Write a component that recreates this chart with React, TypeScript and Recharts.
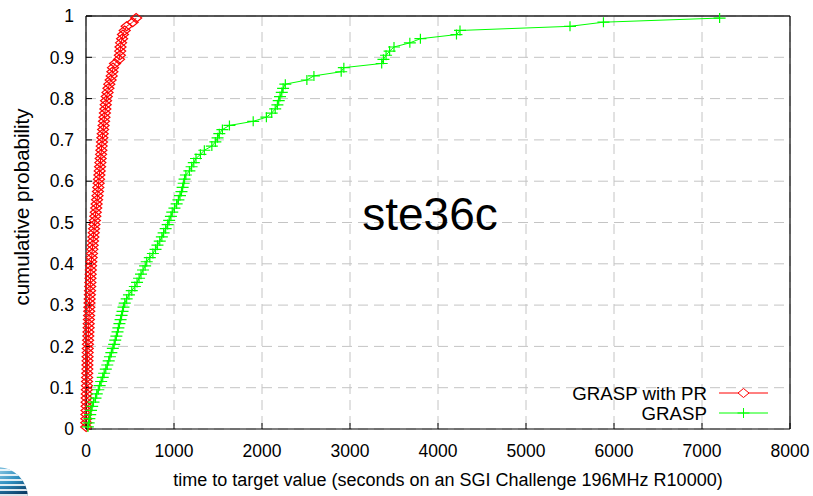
import React from 'react';
import { LineChart, Line, XAxis, YAxis, CartesianGrid, Customized } from 'recharts';

const probabilities = [
  0.005, 0.015, 0.025, 0.035, 0.045, 0.055, 0.065, 0.075, 0.085, 0.095,
  0.105, 0.115, 0.125, 0.135, 0.145, 0.155, 0.165, 0.175, 0.185, 0.195,
  0.205, 0.215, 0.225, 0.235, 0.245, 0.255, 0.265, 0.275, 0.285, 0.295,
  0.305, 0.315, 0.325, 0.335, 0.345, 0.355, 0.365, 0.375, 0.385, 0.395,
  0.405, 0.415, 0.425, 0.435, 0.445, 0.455, 0.465, 0.475, 0.485, 0.495,
  0.505, 0.515, 0.525, 0.535, 0.545, 0.555, 0.565, 0.575, 0.585, 0.595,
  0.605, 0.615, 0.625, 0.635, 0.645, 0.655, 0.665, 0.675, 0.685, 0.695,
  0.705, 0.715, 0.725, 0.735, 0.745, 0.755, 0.765, 0.775, 0.785, 0.795,
  0.805, 0.815, 0.825, 0.835, 0.845, 0.855, 0.865, 0.875, 0.885, 0.895,
  0.905, 0.915, 0.925, 0.935, 0.945, 0.955, 0.965, 0.975, 0.985, 0.995,
];

const graspPrTimes = [
  2, 3, 4, 5, 6, 7, 7, 8, 9, 10,
  11, 12, 13, 14, 15, 16, 17, 18, 19, 20,
  22, 24, 26, 28, 30, 31, 33, 35, 37, 38,
  40, 42, 44, 46, 48, 50, 51, 53, 55, 57,
  60, 64, 68, 72, 76, 80, 84, 88, 92, 96,
  101, 106, 111, 116, 121, 126, 131, 136, 140, 144,
  148, 152, 156, 160, 163, 167, 171, 175, 178, 182,
  186, 190, 195, 200, 205, 210, 215, 220, 224, 228,
  236, 245, 255, 265, 280, 292, 300, 307, 330, 375,
  385, 388, 392, 398, 410, 420, 440, 462, 530, 570,
];

const graspTimes = [
  22, 30, 38, 48, 57, 70, 85, 108, 122, 140,
  155, 172, 190, 206, 225, 242, 258, 272, 288, 305,
  320, 332, 345, 358, 368, 380, 393, 404, 415, 426,
  440, 462, 488, 520, 555, 580, 603, 625, 648, 672,
  690, 725, 760, 790, 812, 838, 862, 882, 905, 928,
  945, 965, 980, 1005, 1030, 1050, 1068, 1085, 1098, 1110,
  1120, 1135, 1175, 1200, 1225, 1250, 1300, 1345, 1430, 1470,
  1495, 1515, 1550, 1630, 1900, 2050, 2110, 2150, 2175, 2190,
  2205, 2225, 2240, 2265, 2510, 2590, 2900, 2930, 3360, 3380,
  3410, 3450, 3500, 3680, 3800, 4210, 4250, 5500, 5880, 7200,
];

const xTicks = [0, 1000, 2000, 3000, 4000, 5000, 6000, 7000, 8000];
const yTicks = [0, 0.1, 0.2, 0.3, 0.4, 0.5, 0.6, 0.7, 0.8, 0.9, 1];

const seriesNames = ['GRASP with PR', 'GRASP'];
const instanceName = 'ste36c';
const xLabel = 'time to target value (seconds on an SGI Challenge 196MHz R10000)';
const yLabel = 'cumulative probability';

const prData = graspPrTimes.map((t, i) => ({ t, p: probabilities[i] }));
const graspData = graspTimes.map((t, i) => ({ t, p: probabilities[i] }));

const FONT = '"Liberation Sans", Arial, Helvetica, sans-serif';
const RED = '#ff0000';
const GREEN = '#00ff00';

const diamondPath = (cx: number, cy: number) =>
  `M${cx - 5.5},${cy}L${cx},${cy - 4.5}L${cx + 5.5},${cy}L${cx},${cy + 4.5}Z`;
const plusPath = (cx: number, cy: number) =>
  `M${cx - 6},${cy}L${cx + 6},${cy}M${cx},${cy - 5}L${cx},${cy + 5}`;

const DiamondDot = (props: any) => {
  const { cx, cy, index } = props;
  if (cx == null || cy == null) return <g key={`d${index}`} />;
  return <path key={`d${index}`} d={diamondPath(cx, cy)} fill="none" stroke={RED} strokeWidth={1.2} />;
};

const PlusDot = (props: any) => {
  const { cx, cy, index } = props;
  if (cx == null || cy == null) return <g key={`p${index}`} />;
  return <path key={`p${index}`} d={plusPath(cx, cy)} fill="none" stroke={GREEN} strokeWidth={1.2} />;
};

const Overlay = () => (
  <g fontFamily={FONT}>
    <text x={430} y={230} fontSize={46} textAnchor="middle" fill="#000">{instanceName}</text>
    <text x={707} y={393} fontSize={18.7} textAnchor="end" dominantBaseline="central" fill="#000">{seriesNames[0]}</text>
    <line x1={719} y1={393} x2={768} y2={393} stroke={RED} strokeWidth={1} />
    <path d={diamondPath(743.5, 393)} fill="#fff" stroke={RED} strokeWidth={1} />
    <text x={707} y={413} fontSize={18.7} textAnchor="end" dominantBaseline="central" fill="#000">{seriesNames[1]}</text>
    <line x1={719} y1={413} x2={768} y2={413} stroke={GREEN} strokeWidth={1} />
    <path d={plusPath(743.5, 413)} fill="none" stroke={GREEN} strokeWidth={1} />
    <text x={448} y={480} fontSize={18} textAnchor="middle" dominantBaseline="central" fill="#000">{xLabel}</text>
    <text x={21} y={207} fontSize={20.5} textAnchor="middle" dominantBaseline="central" fill="#000" transform="rotate(-90 21 207)">{yLabel}</text>
  </g>
);

const Logo = () => (
  <svg width={40} height={40} style={{ position: 'absolute', left: 0, top: 456 }}>
    <defs>
      <clipPath id="logoClip">
        <circle cx={-3} cy={42} r={31} />
      </clipPath>
      <radialGradient id="logoGrad" cx="0.3" cy="0.3" r="0.8">
        <stop offset="0%" stopColor="#bfe6f5" />
        <stop offset="60%" stopColor="#2f8fc0" />
        <stop offset="100%" stopColor="#0b3d66" />
      </radialGradient>
    </defs>
    <g clipPath="url(#logoClip)">
      <rect x={-40} y={0} width={80} height={40} fill="url(#logoGrad)" />
      {[13, 18, 23, 28, 33, 38].map((y) => (
        <rect key={y} x={-40} y={y} width={80} height={2} fill="#ffffff" opacity={0.85} />
      ))}
    </g>
  </svg>
);

export default function App() {
  return (
    <div style={{ position: 'absolute', left: 0, top: 0, width: 813, height: 496, background: '#fff' }}>
      <LineChart
        width={813}
        height={496}
        margin={{ top: 15, right: 22, bottom: 0, left: 0 }}
        style={{ fontFamily: FONT }}
      >
        <CartesianGrid stroke="#c4c4c4" strokeDasharray="10 6" strokeWidth={1} />
        <XAxis
          dataKey="t"
          type="number"
          domain={[0, 8000]}
          ticks={xTicks}
          height={67}
          tickSize={-6}
          tickMargin={22}
          axisLine={{ stroke: '#000', strokeWidth: 1.2 }}
          tickLine={{ stroke: '#000' }}
          tick={{ fill: '#000', fontSize: 17.5, fontFamily: FONT }}
        />
        <XAxis
          xAxisId="top"
          orientation="top"
          type="number"
          domain={[0, 8000]}
          ticks={xTicks}
          height={1}
          tickSize={-6}
          tickFormatter={() => ''}
          axisLine={{ stroke: '#222', strokeWidth: 1.6 }}
          tickLine={{ stroke: '#000' }}
        />
        <YAxis
          dataKey="p"
          type="number"
          domain={[0, 1]}
          ticks={yTicks}
          width={86}
          tickSize={-6}
          tickMargin={18}
          axisLine={{ stroke: '#000', strokeWidth: 1.2 }}
          tickLine={{ stroke: '#000' }}
          tick={{ fill: '#000', fontSize: 17.5, fontFamily: FONT }}
        />
        <YAxis
          yAxisId="right"
          orientation="right"
          type="number"
          domain={[0, 1]}
          ticks={yTicks}
          width={1}
          tickSize={-6}
          tickFormatter={() => ''}
          axisLine={{ stroke: '#000', strokeWidth: 1.2 }}
          tickLine={{ stroke: '#000' }}
        />
        <Line
          data={prData}
          dataKey="p"
          type="linear"
          stroke={RED}
          strokeWidth={1}
          dot={DiamondDot}
          activeDot={false}
          isAnimationActive={false}
        />
        <Line
          data={graspData}
          dataKey="p"
          type="linear"
          stroke={GREEN}
          strokeWidth={1}
          dot={PlusDot}
          activeDot={false}
          isAnimationActive={false}
        />
        <Customized component={<Overlay />} />
      </LineChart>
      <Logo />
    </div>
  );
}
